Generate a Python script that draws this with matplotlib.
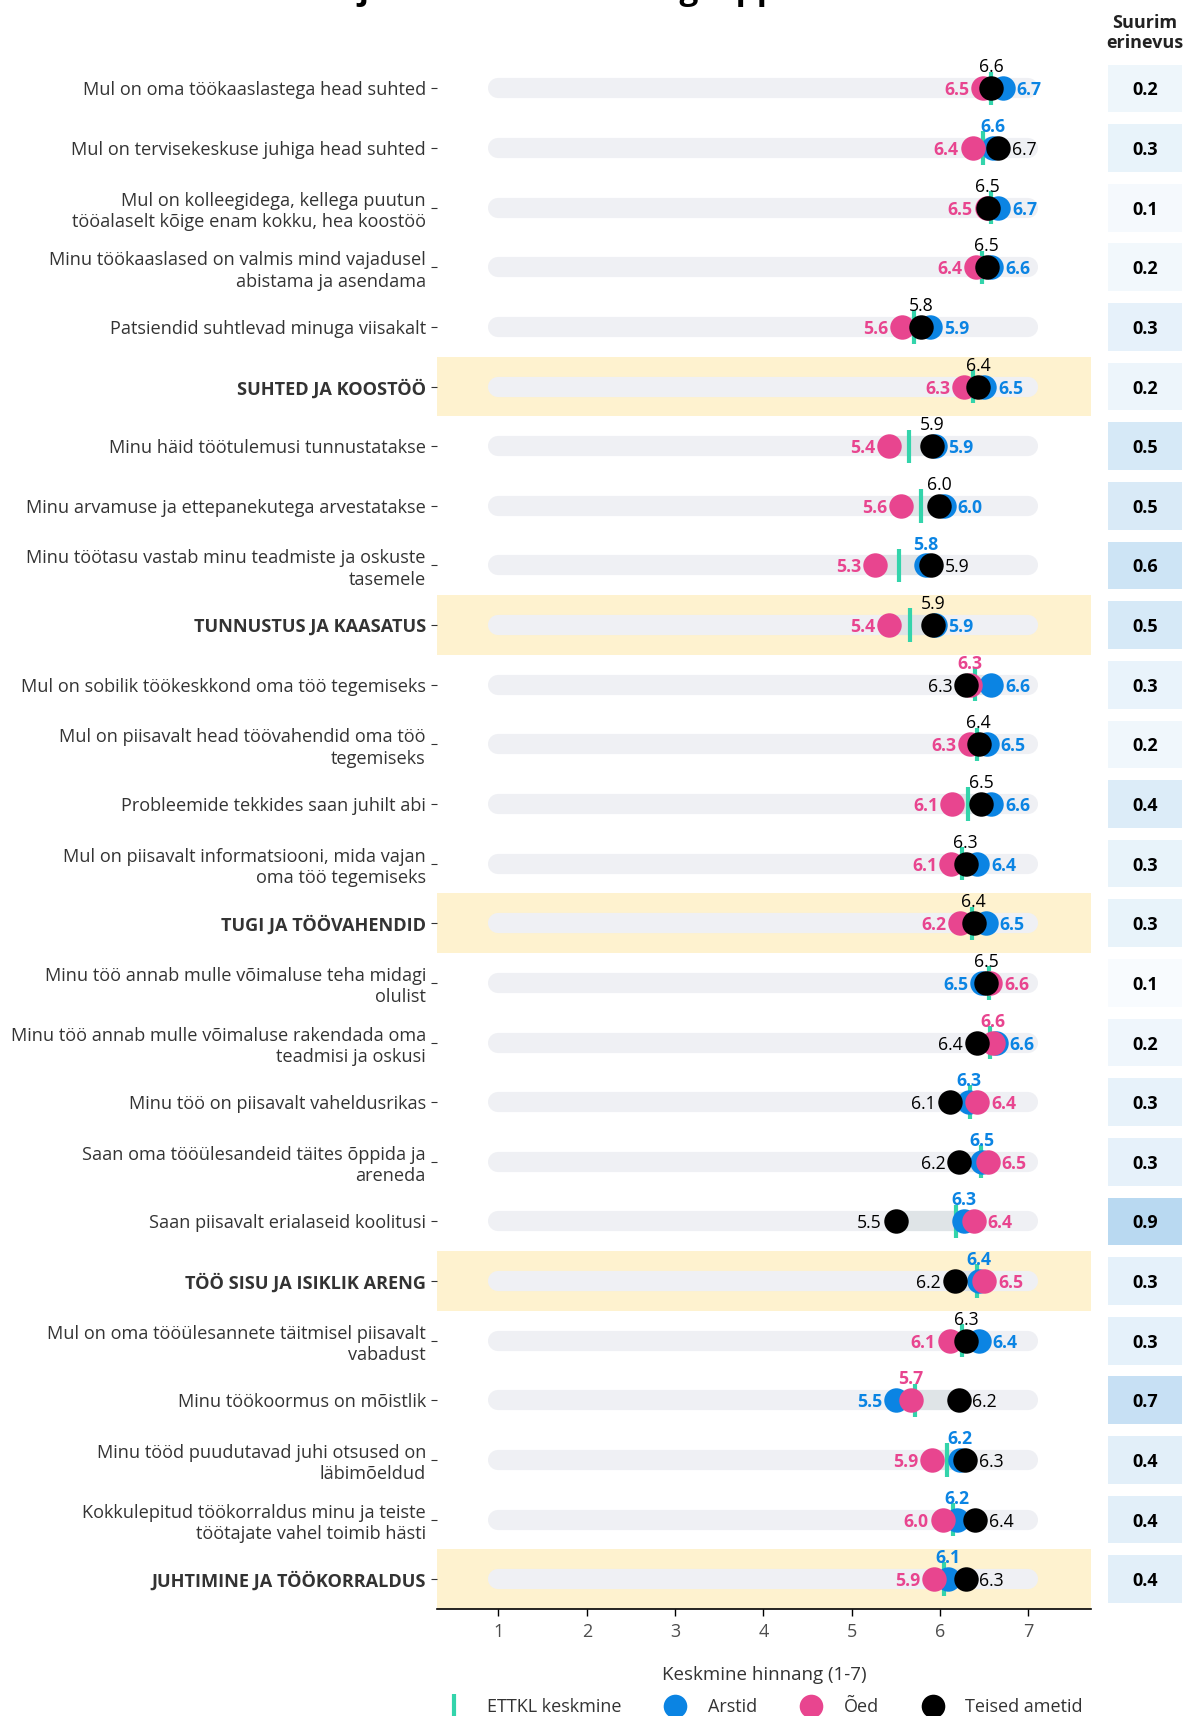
import matplotlib.pyplot as plt
from matplotlib.lines import Line2D
from matplotlib.colors import LinearSegmentedColormap
import numpy as np

plt.rcParams['font.family'] = ['Open Sans', 'DejaVu Sans']

# data
items = [
    'Mul on oma töökaaslastega head suhted',
    'Mul on tervisekeskuse juhiga head suhted',
    'Mul on kolleegidega, kellega puutun\ntööalaselt kõige enam kokku, hea koostöö',
    'Minu töökaaslased on valmis mind vajadusel\nabistama ja asendama',
    'Patsiendid suhtlevad minuga viisakalt',
    'SUHTED JA KOOSTÖÖ',
    'Minu häid töötulemusi tunnustatakse',
    'Minu arvamuse ja ettepanekutega arvestatakse',
    'Minu töötasu vastab minu teadmiste ja oskuste\ntasemele',
    'TUNNUSTUS JA KAASATUS',
    'Mul on sobilik töökeskkond oma töö tegemiseks',
    'Mul on piisavalt head töövahendid oma töö\ntegemiseks',
    'Probleemide tekkides saan juhilt abi',
    'Mul on piisavalt informatsiooni, mida vajan\noma töö tegemiseks',
    'TUGI JA TÖÖVAHENDID',
    'Minu töö annab mulle võimaluse teha midagi\nolulist',
    'Minu töö annab mulle võimaluse rakendada oma\nteadmisi ja oskusi',
    'Minu töö on piisavalt vaheldusrikas',
    'Saan oma tööülesandeid täites õppida ja\nareneda',
    'Saan piisavalt erialaseid koolitusi',
    'TÖÖ SISU JA ISIKLIK ARENG',
    'Mul on oma tööülesannete täitmisel piisavalt\nvabadust',
    'Minu töökoormus on mõistlik',
    'Minu tööd puudutavad juhi otsused on\nläbimõeldud',
    'Kokkulepitud töökorraldus minu ja teiste\ntöötajate vahel toimib hästi',
    'JUHTIMINE JA TÖÖKORRALDUS',
]
arstid = [6.71, 6.60, 6.66, 6.58, 5.89, 6.50, 5.94, 6.04, 5.84, 5.94, 6.58, 6.53, 6.58,
          6.42, 6.52, 6.48, 6.63, 6.33, 6.48, 6.27, 6.44, 6.44, 5.50, 6.23, 6.19, 6.09]
oed = [6.49, 6.37, 6.53, 6.41, 5.57, 6.27, 5.42, 5.56, 5.26, 5.42, 6.34, 6.34, 6.14,
       6.13, 6.23, 6.57, 6.60, 6.42, 6.54, 6.38, 6.50, 6.11, 5.67, 5.91, 6.03, 5.93]
teised = [6.58, 6.66, 6.54, 6.53, 5.79, 6.43, 5.91, 5.99, 5.90, 5.92, 6.30, 6.44, 6.47,
          6.29, 6.38, 6.52, 6.42, 6.11, 6.22, 5.50, 6.17, 6.30, 6.21, 6.28, 6.40, 6.29]
ettkl = [6.58, 6.49, 6.58, 6.48, 5.71, 6.37, 5.65, 5.79, 5.54, 5.66, 6.40, 6.42, 6.32,
         6.25, 6.36, 6.55, 6.57, 6.34, 6.47, 6.18, 6.42, 6.25, 5.72, 6.08, 6.15, 6.05]
suurim = [0.2, 0.3, 0.1, 0.2, 0.3, 0.2, 0.5, 0.5, 0.6, 0.5, 0.3, 0.2, 0.4,
          0.3, 0.3, 0.1, 0.2, 0.3, 0.3, 0.9, 0.3, 0.3, 0.7, 0.4, 0.4, 0.4]
kategooriad = [5, 9, 14, 20, 25]

BLUE = '#0b84e3'
PINK = '#e8458f'
GREEN = '#33d4ab'
TXT = '#333333'

W, H = 1186, 1716
fig = plt.figure(figsize=(W / 100, H / 100), dpi=100)
bottom = 1 - 1609 / H
height = (1609 - 58.6) / H
ax = fig.add_axes([437 / W, bottom, 654 / W, height])

n = len(items)
y = np.arange(n)

# highlight bands for the category rows
for k in kategooriad:
    ax.axhspan(k - 0.5, k + 0.5, color='#fef2cf', lw=0, zorder=0)

# background bars 1..7 and min-max range
for i in y:
    ax.plot([1, 7], [i, i], color='#eff0f4', lw=14.5, solid_capstyle='round', zorder=1)
    vals = [arstid[i], oed[i], teised[i]]
    ax.plot([min(vals), max(vals)], [i, i], color='#dfe4e7', lw=14.5,
            solid_capstyle='butt', zorder=2)

# ETTKL keskmine
ax.vlines(ettkl, y - 0.28, y + 0.28, color=GREEN, lw=3, zorder=3)

ax.scatter(arstid, y, s=310, color=BLUE, lw=0, zorder=4)
ax.scatter(oed, y, s=310, color=PINK, lw=0, zorder=5)
ax.scatter(teised, y, s=310, color='black', lw=0, zorder=6)

# value labels: lowest left, middle above, highest right
for i in y:
    groups = [(arstid[i], BLUE, 'bold'), (oed[i], PINK, 'bold'), (teised[i], 'black', 'normal')]
    groups.sort(key=lambda g: g[0])
    offs = [(-10, 0, 'right'), (0, 16.5, 'center'), (10, 0, 'left')]
    for (v, c, w), (dx, dy, ha) in zip(groups, offs):
        ax.annotate(f'{v:.1f}', (v, i), xytext=(dx, dy), textcoords='offset points',
                    ha=ha, va='center_baseline', color=c, fontweight=w, fontsize=12.7,
                    zorder=7)

ax.set_xlim(0.304, 7.71)
ax.set_ylim(n - 0.5, -0.5)
ax.set_xticks(range(1, 8))
ax.set_yticks(y)
ax.set_yticklabels(items, fontsize=13.1, color=TXT, linespacing=1.25)
for k, lab in enumerate(ax.get_yticklabels()):
    if k in kategooriad:
        lab.set_fontweight('bold')
ax.tick_params(axis='y', length=4, color=TXT, pad=4)
ax.tick_params(axis='x', length=5, width=1, color='black', labelsize=13,
               labelcolor='#4d4d4d', pad=5)
for s in ['top', 'right', 'left']:
    ax.spines[s].set_visible(False)
ax.spines['bottom'].set_linewidth(1.2)
ax.set_xlabel('Keskmine hinnang (1-7)', fontsize=13.5, color=TXT, labelpad=18)

# Suurim erinevus column
axr = fig.add_axes([1108 / W, bottom, 74 / W, height])
spread = [max(a, o, t) - min(a, o, t) for a, o, t in zip(arstid, oed, teised)]
cmap = LinearSegmentedColormap.from_list('bl', ['#ffffff', '#b0d4ef'])
axr.barh(y, 1, height=0.8, color=cmap(np.array(spread)))
for i in y:
    axr.text(0.5, i, f'{suurim[i]:.1f}', ha='center', va='center_baseline',
             fontsize=13, fontweight='bold', color='black')
axr.set_xlim(0, 1)
axr.set_ylim(n - 0.5, -0.5)
axr.axis('off')
fig.text(1145 / W, 1 - 33 / H, 'Suurim\nerinevus', ha='center', va='center',
         fontsize=13, fontweight='bold', color='#222222', linespacing=1.15)

# title (cut off at the top, as in the source)
fig.text(600 / W, 1 + 1 / H, 'Töötajate rahulolu ametigruppide lõikes', ha='center',
         va='baseline', fontsize=24, fontweight='bold', color='black')

handles = [
    Line2D([], [], color=GREEN, marker='|', ls='none', markersize=18, markeredgewidth=3),
    Line2D([], [], color=BLUE, marker='o', ls='none', markersize=17, markeredgewidth=0),
    Line2D([], [], color=PINK, marker='o', ls='none', markersize=17, markeredgewidth=0),
    Line2D([], [], color='black', marker='o', ls='none', markersize=17, markeredgewidth=0),
]
leg = fig.legend(handles, ['ETTKL keskmine', 'Arstid', 'Õed', 'Teised ametid'],
                 loc='center', bbox_to_anchor=(764 / W, 1 - 1707 / H), ncol=4,
                 frameon=False, fontsize=13, handlelength=1.0, handletextpad=1.3,
                 columnspacing=2.5, borderpad=0)
for t in leg.get_texts():
    t.set_color(TXT)

fig.savefig('out.png', dpi=100)
